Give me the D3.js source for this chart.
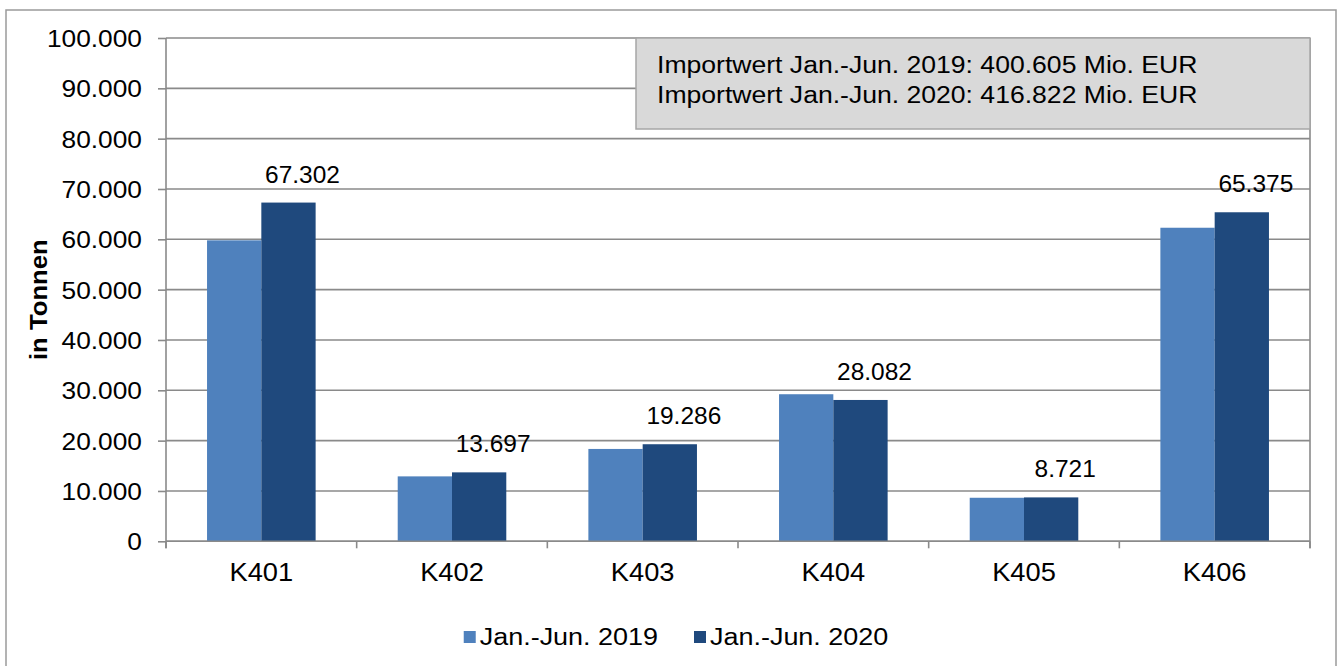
<!DOCTYPE html>
<html>
<head>
<meta charset="utf-8">
<script src="https://cdn.jsdelivr.net/npm/d3@7"></script>
<style>
  html, body { margin: 0; padding: 0; background: #ffffff; }
  svg { display: block; }
  text { font-family: "Liberation Sans", Arial, Helvetica, sans-serif; fill: #000; }
</style>
</head>
<body>
<svg id="chart" width="1342" height="666"></svg>
<script>
// ---- data ----
const categories = ["K401", "K402", "K403", "K404", "K405", "K406"];
const seriesNames = ["Jan.-Jun. 2019", "Jan.-Jun. 2020"];
const values2019 = [59800, 12900, 18350, 29220, 8650, 62300];
const values2020 = [67302, 13697, 19286, 28082, 8721, 65375];
const yTicks = [0, 10000, 20000, 30000, 40000, 50000, 60000, 70000, 80000, 90000, 100000];
const yTitle = "in Tonnen";
const importNotes = [
  "Importwert Jan.-Jun. 2019: 400.605 Mio. EUR",
  "Importwert Jan.-Jun. 2020: 416.822 Mio. EUR"
];

// ---- layout ----
const plot = { left: 166, right: 1310, top: 38, bottom: 541.3 };
const colors = ["#4f81bd", "#1f497d"];
const gridColor = "#8a8a8a";

const de = d3.formatLocale({ decimal: ",", thousands: ".", grouping: [3], currency: ["", " €"] });
const fmt = de.format(",d");

const svg = d3.select("#chart");

// outer frame
svg.append("rect")
  .attr("x", 6).attr("y", 10)
  .attr("width", 1330).attr("height", 670)
  .attr("fill", "#fff")
  .attr("stroke", "#9a9a9a").attr("stroke-width", 1.5);

const x = d3.scaleBand().domain(categories).range([plot.left, plot.right]).padding(0);
const xs = d3.scaleBand().domain(seriesNames).range([0, x.bandwidth()]).paddingInner(0).paddingOuter(0.756);
const y = d3.scaleLinear().domain([0, 100000]).range([plot.bottom, plot.top]);

// gridlines
svg.append("g")
  .selectAll("line").data(yTicks).join("line")
  .attr("x1", plot.left).attr("x2", plot.right)
  .attr("y1", d => y(d)).attr("y2", d => y(d))
  .attr("stroke", gridColor).attr("stroke-width", 1.6);

// right border of plot
svg.append("line")
  .attr("x1", plot.right).attr("x2", plot.right)
  .attr("y1", plot.top).attr("y2", plot.bottom + 7)
  .attr("stroke", gridColor).attr("stroke-width", 1.6);

// bars
const data = categories.map((c, i) => ({ cat: c, vals: [values2019[i], values2020[i]] }));
const groups = svg.append("g").selectAll("g").data(data).join("g")
  .attr("transform", d => `translate(${x(d.cat)},0)`);
groups.selectAll("rect")
  .data(d => d.vals.map((v, j) => ({ s: seriesNames[j], v, j })))
  .join("rect")
  .attr("x", d => xs(d.s))
  .attr("width", xs.bandwidth())
  .attr("y", d => y(d.v))
  .attr("height", d => y(0) - y(d.v))
  .attr("fill", d => colors[d.j]);

// data labels (2020 only)
groups.append("text")
  .attr("transform", d => `translate(${xs(seriesNames[1]) + xs.bandwidth() / 2 + 14},${y(d.vals[1]) - 20}) scale(1.02,1)`)
  .attr("text-anchor", "middle")
  .style("font-size", "24px")
  .text(d => fmt(d.vals[1]));

// y axis
const yAxis = svg.append("g")
  .attr("transform", `translate(${plot.left},0)`)
  .call(d3.axisLeft(y).tickValues(yTicks).tickSize(8).tickPadding(0).tickFormat(fmt));
yAxis.select(".domain").attr("stroke", gridColor).attr("stroke-width", 1.6)
  .attr("d", `M0,${plot.top}V${plot.bottom + 7}`);
yAxis.selectAll(".tick line").attr("stroke", gridColor).attr("stroke-width", 1.6);
yAxis.selectAll(".tick text")
  .attr("x", 0).attr("dy", "0.36em")
  .attr("transform", "translate(-24,0) scale(1.12,1)")
  .attr("text-anchor", "end")
  .style("font-size", "23.5px").attr("fill", "#000");

// x axis
const xAxis = svg.append("g")
  .attr("transform", `translate(0,${plot.bottom})`)
  .call(d3.axisBottom(x).tickSize(0).tickPadding(0));
xAxis.select(".domain").attr("stroke", gridColor).attr("stroke-width", 1.6)
  .attr("d", `M${plot.left},0H${plot.right}`);
xAxis.selectAll(".tick text")
  .attr("y", 0).attr("dy", 0)
  .attr("transform", "translate(0,40) scale(1.07,1)")
  .style("font-size", "25.5px").attr("fill", "#000");
// category boundary ticks
const bounds = categories.map(c => x(c)).concat([x(categories[categories.length - 1]) + x.bandwidth()]);
xAxis.append("g").selectAll("line").data(bounds).join("line")
  .attr("x1", d => d).attr("x2", d => d)
  .attr("y1", 0).attr("y2", 7)
  .attr("stroke", gridColor).attr("stroke-width", 1.6);

// y title
svg.append("text")
  .attr("transform", `translate(47,${(plot.top + plot.bottom) / 2 + 10}) rotate(-90) scale(1.05,1)`)
  .attr("text-anchor", "middle")
  .style("font-size", "24.5px").style("font-weight", "bold")
  .text(yTitle);

// annotation box
const note = svg.append("g");
note.append("rect")
  .attr("x", 636).attr("y", 38).attr("width", plot.right - 636).attr("height", 91)
  .attr("fill", "#d9d9d9").attr("stroke", "#a6a6a6").attr("stroke-width", 1.5);
note.selectAll("text").data(importNotes).join("text")
  .attr("transform", (d, i) => `translate(657,${73 + i * 30}) scale(1.085,1)`)
  .style("font-size", "24.5px")
  .text(d => d);

// legend
const legend = svg.append("g");
const items = legend.selectAll("g").data(seriesNames).join("g");
items.append("rect").attr("width", 12).attr("height", 12).attr("y", -14)
  .attr("fill", (d, i) => colors[i]);
items.append("text")
  .attr("transform", "translate(16,0) scale(1.1,1)")
  .style("font-size", "24.5px")
  .text(d => d);
let cx = 0;
const widths = [];
items.each(function () { widths.push(this.getBBox().width * 1.0); });
items.attr("transform", (d, i) => {
  const t = `translate(${cx},0)`;
  cx += widths[i] + 36;
  return t;
});
const totalW = cx - 36;
legend.attr("transform", `translate(${676 - totalW / 2},645)`);
</script>
</body>
</html>
